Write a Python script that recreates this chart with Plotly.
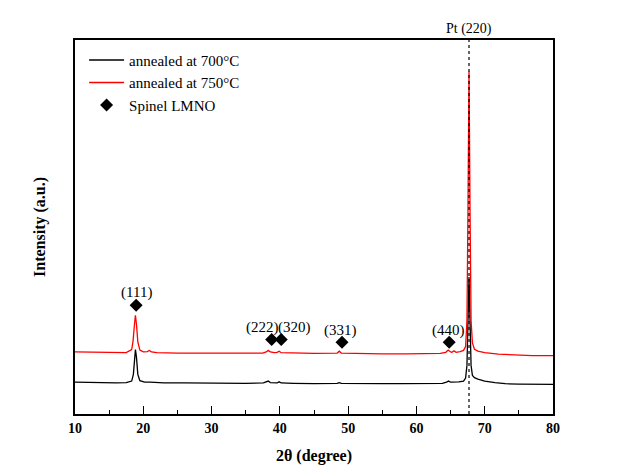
import plotly.graph_objects as go

# ---- data ----
x_700 = [10, 12, 14, 16, 17.5, 18.3, 18.55, 18.7, 18.85, 19.0, 19.2, 19.5, 20.2, 21, 23, 26, 29, 32, 35,
         37.6, 38.0, 38.3, 38.6, 39.2, 39.6, 39.9, 40.2, 42, 45, 48.4, 48.7, 49.0, 52, 55, 58, 61, 63.8,
         64.4, 64.7, 65.0, 65.5, 66.2, 66.9, 67.2, 67.4, 67.55, 67.7, 67.85, 68.0, 68.2, 68.5, 69.0, 70,
         71.5, 73, 75, 77, 80]
y_700 = [8.5, 8.4, 8.4, 8.3, 8.4, 8.8, 10.6, 14.2, 17.2, 15.2, 10.6, 8.9, 8.5, 8.5, 8.3, 8.3, 8.2, 8.2, 8.2,
         8.3, 8.5, 8.8, 8.4, 8.3, 8.3, 8.6, 8.3, 8.2, 8.1, 8.2, 8.4, 8.2, 8.1, 8.1, 8.1, 8.1, 8.2,
         8.5, 8.8, 8.5, 8.5, 8.6, 8.8, 9.6, 13.0, 25.0, 36.6, 25.0, 13.0, 10.3, 9.7, 9.3, 8.8,
         8.4, 8.1, 8.0, 8.0, 7.9]

x_750 = [10, 12, 14, 16, 17.5, 18.3, 18.5, 18.7, 18.85, 19.0, 19.2, 19.5, 20.0, 20.6, 20.9, 21.2, 22, 25,
         28, 31, 34, 37.5, 38.0, 38.3, 38.6, 39.2, 39.6, 39.9, 40.2, 42, 45, 48.4, 48.7, 49.0, 52, 55,
         58.5, 61, 63.5, 64.3, 64.65, 65.0, 65.2, 65.5, 65.8, 66.4, 66.9, 67.2, 67.4, 67.55, 67.7, 67.85,
         68.0, 68.2, 68.5, 69.0, 70, 72, 75, 77, 80]
y_750 = [16.6, 16.5, 16.4, 16.3, 16.4, 17.2, 19.5, 23.8, 26.4, 24.0, 19.3, 17.1, 16.6, 16.7, 17.0, 16.6, 16.4, 16.3,
         16.3, 16.2, 16.2, 16.3, 16.6, 17.0, 16.6, 16.4, 16.5, 16.8, 16.4, 16.3, 16.2, 16.3, 16.8, 16.3, 16.1, 16.1,
         16.1, 16.1, 16.2, 16.5, 17.1, 16.6, 16.5, 16.9, 16.5, 16.7, 17.0, 18.0, 25.0, 55.0, 91.6, 55.0,
         25.0, 19.0, 17.3, 16.8, 16.4, 16.0, 15.7, 15.6, 15.6]

hkl_labels = ["(111)", "(222)", "(320)", "(331)", "(440)"]
hkl_x = [18.95, 38.8, 40.2, 49.1, 64.8]
hkl_y = [29.1, 19.9, 19.9, 19.2, 19.2]
label_x = [18.95, 37.5, 42.1, 48.9, 64.7]
label_y = [32.6, 23.2, 23.0, 22.4, 22.4]

pt_x = 67.7
pt_label = "Pt (220)"

FONT = "Liberation Serif"

fig = go.Figure()
fig.add_trace(go.Scatter(x=x_700, y=y_700, mode="lines", name="annealed at 700°C",
                         line=dict(color="black", width=1.3)))
fig.add_trace(go.Scatter(x=x_750, y=y_750, mode="lines", name="annealed at 750°C",
                         line=dict(color="red", width=1.3)))
fig.add_trace(go.Scatter(x=hkl_x, y=hkl_y, mode="markers", name="Spinel LMNO",
                         marker=dict(symbol="diamond", size=10, color="black")))

for t, lx, ly in zip(hkl_labels, label_x, label_y):
    fig.add_annotation(x=lx, y=ly, text=t, showarrow=False, xref="x", yref="y",
                       font=dict(family=FONT, size=15, color="black"))

fig.add_shape(type="line", x0=pt_x, x1=pt_x, y0=0, y1=1, xref="x", yref="paper",
              line=dict(color="black", width=1.2, dash="dot"))
fig.add_annotation(x=pt_x, y=1, xref="x", yref="paper", text=pt_label, showarrow=False,
                   yanchor="bottom", yshift=1, font=dict(family=FONT, size=14, color="black"))

fig.update_layout(
    width=618, height=473,
    margin=dict(l=67, r=73, t=32, b=67),
    paper_bgcolor="white", plot_bgcolor="white",
    font=dict(family=FONT, color="black"),
    showlegend=True,
    legend=dict(x=0.019, y=0.99, xanchor="left", yanchor="top", bgcolor="rgba(0,0,0,0)",
                font=dict(family=FONT, size=15, color="black"), tracegroupgap=0, itemwidth=35),
    xaxis=dict(range=[10, 80], dtick=10, tick0=10, ticks="inside", ticklen=8, tickwidth=1.2,
               tickcolor="black", showline=True, linecolor="black", linewidth=1.5, mirror=True,
               showgrid=False, zeroline=False, automargin=False,
               tickfont=dict(family=FONT, size=14, color="black", weight="bold"),
               minor=dict(dtick=5, ticks="inside", ticklen=4, tickwidth=1, tickcolor="black"),
               title=dict(text="<b>2θ (degree)</b>", font=dict(family=FONT, size=16, color="black"),
                          standoff=15)),
    yaxis=dict(range=[0, 100], showticklabels=False, ticks="", showline=True, linecolor="black",
               linewidth=1.5, mirror=True, showgrid=False, zeroline=False, automargin=False,
               title=dict(text="<b>Intensity (a.u.)</b>", font=dict(family=FONT, size=16, color="black"),
                          standoff=24)),
)

fig.write_html("out.html")
